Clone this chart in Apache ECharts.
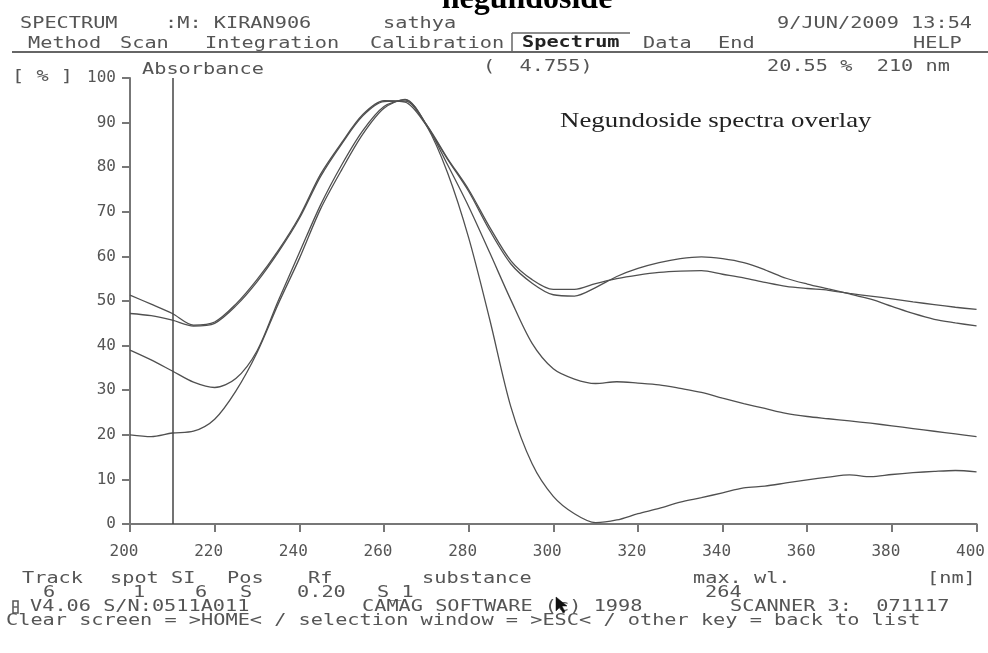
<!DOCTYPE html>
<html>
<head>
<meta charset="utf-8">
<script src="https://cdn.jsdelivr.net/npm/echarts@6/dist/echarts.min.js"></script>
<style>
  html, body { margin: 0; padding: 0; background: #fff; }
  #chart { width: 988px; height: 653px; }
</style>
</head>
<body>
<div id="chart"></div>
<script>
// wavelength grid [nm]
const wavelengths = [200, 205, 210, 215, 220, 225, 230, 235, 240, 245, 250, 255, 260, 265, 270,
  275, 280, 285, 290, 295, 300, 305, 310, 315, 320, 325, 330, 335, 340, 345, 350, 355, 360,
  365, 370, 375, 380, 385, 390, 395, 400];

// 4 overlaid spectra, absorbance in %
const trackA = [51.3, 49.3, 47.2, 44.6, 45.3, 49.3, 54.8, 61.3, 68.9, 78.4, 85.5, 91.8, 94.9, 94.6, 89.4,
  81.8, 74.6, 65.8, 58.3, 54.0, 51.4, 51.1, 53.0, 55.5, 57.3, 58.6, 59.5, 59.9, 59.5, 58.6, 57.0, 55.1, 53.8,
  52.7, 51.6, 50.4, 48.8, 47.2, 45.9, 45.1, 44.4];
const trackB = [47.2, 46.7, 45.7, 44.4, 45.0, 48.9, 54.3, 60.9, 68.5, 77.9, 85.2, 91.5, 94.7, 94.8, 89.6,
  82.0, 75.0, 66.5, 59.0, 54.8, 52.6, 52.6, 53.9, 55.0, 55.8, 56.4, 56.7, 56.8, 56.0, 55.2, 54.2, 53.3, 52.8,
  52.4, 51.7, 51.1, 50.5, 49.8, 49.2, 48.6, 48.1];
const trackC = [39.0, 36.8, 34.3, 31.8, 30.6, 32.6, 38.8, 50.0, 60.8, 71.5, 80.5, 88.2, 93.6, 95.1, 89.6,
  80.6, 71.2, 60.8, 50.2, 40.5, 34.8, 32.5, 31.5, 31.9, 31.6, 31.2, 30.4, 29.5, 28.2, 27.0, 25.9, 24.8, 24.1,
  23.6, 23.1, 22.6, 22.0, 21.4, 20.8, 20.2, 19.6];
const trackD = [20.0, 19.6, 20.4, 20.8, 23.5, 29.8, 38.4, 49.3, 59.5, 70.6, 79.4, 87.4, 93.2, 95.2, 89.4,
  78.8, 64.2, 45.8, 26.2, 13.5, 6.2, 2.3, 0.3, 0.9, 2.3, 3.5, 4.9, 5.9, 7.0, 8.1, 8.5, 9.2, 9.9,
  10.5, 11.0, 10.6, 11.1, 11.5, 11.8, 12.0, 11.7];

const cursorNm = 210;

const GREY = '#555';
const MONO = '"DejaVu Sans Mono", monospace';

const chart = echarts.init(document.getElementById('chart'));

// screen-text helper (wide terminal font)
const txt = (x, y, text, font, fill) => ({
  type: 'text',
  x: x,
  y: y,
  scaleX: 1.35,
  silent: true,
  style: {
    text: text,
    font: font || '15px ' + MONO,
    fill: fill || GREY,
    textVerticalAlign: 'middle',
    verticalAlign: 'middle',
  },
});

const seg = (x1, y1, x2, y2, w) => ({
  type: 'line',
  silent: true,
  shape: { x1: x1, y1: y1, x2: x2, y2: y2 },
  style: { stroke: '#666', lineWidth: w || 1.5 },
});

const lineSeries = (name, values) => ({
  name: name,
  type: 'line',
  data: wavelengths.map((w, i) => [w, values[i]]),
  showSymbol: false,
  smooth: 0.3,
  lineStyle: { color: '#505050', width: 1.3 },
  silent: true,
});

const option = {
  backgroundColor: '#fff',
  animation: false,
  grid: {
    left: 130,
    right: 11,
    top: 78,
    bottom: 129,
  },
  xAxis: {
    type: 'value',
    min: 200,
    max: 400,
    interval: 20,
    axisLine: { lineStyle: { color: '#777', width: 2 } },
    axisTick: { length: 8, lineStyle: { color: '#777', width: 2 } },
    axisLabel: {
      margin: 20,
      fontFamily: MONO,
      fontSize: 16,
      color: GREY,
      padding: [0, 12, 0, 0],
    },
    splitLine: { show: false },
  },
  yAxis: {
    type: 'value',
    min: 0,
    max: 100,
    interval: 10,
    axisLine: { show: true, lineStyle: { color: '#777', width: 2 } },
    axisTick: { show: true, length: 8, lineStyle: { color: '#777', width: 2 } },
    axisLabel: {
      margin: 14,
      fontFamily: MONO,
      fontSize: 16,
      color: GREY,
    },
    splitLine: { show: false },
  },
  series: [
    Object.assign(lineSeries('A', trackA), {
      markLine: {
        silent: true,
        symbol: 'none',
        label: { show: false },
        lineStyle: { color: '#444', width: 1.5, type: 'solid' },
        data: [{ xAxis: cursorNm }],
      },
    }),
    lineSeries('B', trackB),
    lineSeries('C', trackC),
    lineSeries('D', trackD),
  ],
  graphic: [
    // cut-off caption above the screen shot
    {
      type: 'text',
      x: 527,
      y: 0,
      silent: true,
      style: {
        text: 'negundoside',
        font: 'bold 32px "Liberation Serif", serif',
        fill: '#000',
        textAlign: 'center',
        align: 'center',
        textVerticalAlign: 'middle',
        verticalAlign: 'middle',
      },
    },
    // header rows
    txt(20, 24, 'SPECTRUM'),
    txt(165, 24, ':M: KIRAN906'),
    txt(383, 24, 'sathya'),
    txt(777, 24, '9/JUN/2009 13:54'),
    txt(28, 44, 'Method'),
    txt(120, 44, 'Scan'),
    txt(205, 44, 'Integration'),
    txt(370, 44, 'Calibration'),
    txt(522, 43, 'Spectrum', 'bold 15px ' + MONO, '#222'),
    txt(643, 44, 'Data'),
    txt(718, 44, 'End'),
    txt(913, 44, 'HELP'),
    seg(12, 52, 988, 52, 2),
    seg(512, 33, 630, 33, 1.5),
    seg(512, 33, 512, 52, 1.5),
    txt(12, 77, '[ % ]'),
    txt(142, 70, 'Absorbance'),
    txt(483, 67, '(  4.755)'),
    txt(767, 67, '20.55 %  210 nm'),
    // annotation inside the plot
    {
      type: 'text',
      x: 560,
      y: 121,
      scaleX: 1.22,
      silent: true,
      style: {
        text: 'Negundoside spectra overlay',
        font: '22px "Liberation Serif", serif',
        fill: '#222',
        textVerticalAlign: 'middle',
        verticalAlign: 'middle',
      },
    },
    // footer rows
    txt(22, 579, 'Track'),
    txt(110, 579, 'spot SI'),
    txt(227, 579, 'Pos'),
    txt(308, 579, 'Rf'),
    txt(422, 579, 'substance'),
    txt(693, 579, 'max. wl.'),
    txt(927, 579, '[nm]'),
    txt(43, 593, '6'),
    txt(133, 593, '1'),
    txt(195, 593, '6'),
    txt(240, 593, 'S'),
    txt(297, 593, '0.20'),
    txt(377, 593, 'S_1'),
    txt(705, 593, '264'),
    {
      type: 'rect',
      silent: true,
      shape: { x: 13, y: 601, width: 5, height: 12 },
      style: { fill: 'none', stroke: GREY, lineWidth: 1.5 },
    },
    seg(13, 607, 18, 607, 1.5),
    txt(30, 607, 'V4.06 S/N:0511A011'),
    txt(362, 607, 'CAMAG SOFTWARE (c) 1998'),
    txt(730, 607, 'SCANNER 3:  071117'),
    txt(6, 621, 'Clear screen = >HOME< / selection window = >ESC< / other key = back to list'),
    // mouse pointer over the copyright sign
    {
      type: 'polygon',
      x: 556,
      y: 597,
      silent: true,
      shape: { points: [[0, 0], [0, 14], [4, 10], [7, 16], [9, 15], [6, 9], [11, 9]] },
      style: { fill: '#111', stroke: '#111', lineWidth: 0.5 },
    },
  ],
};

chart.setOption(option);
</script>
</body>
</html>
